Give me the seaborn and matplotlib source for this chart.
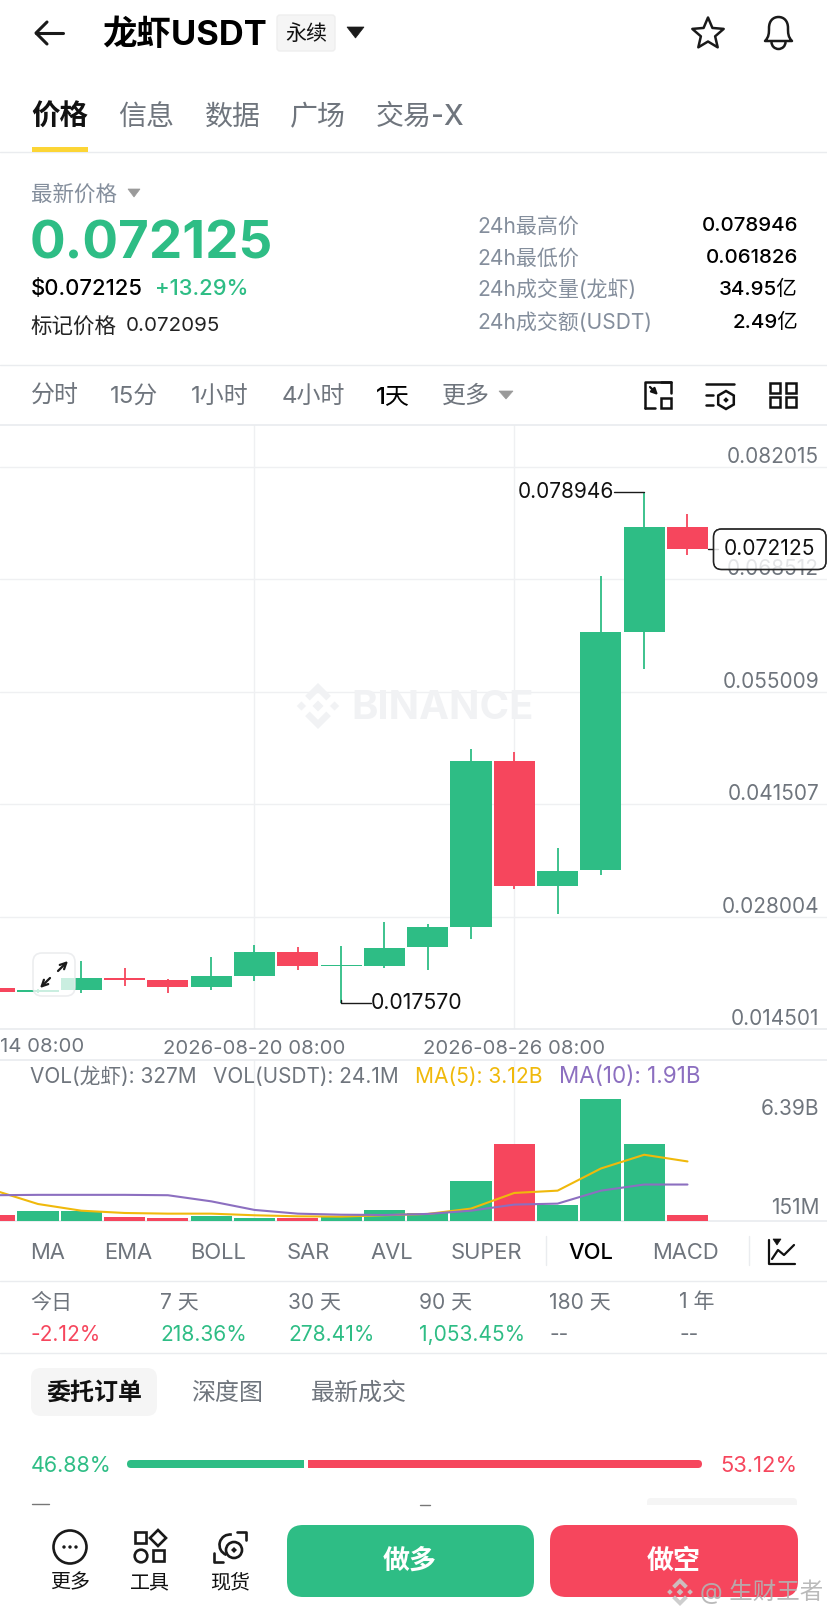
import numpy as np
import pandas as pd
import seaborn as sns
import matplotlib
matplotlib.use("Agg")
import matplotlib.pyplot as plt
from matplotlib.patches import FancyBboxPatch, Rectangle, Polygon, Circle, Arc, PathPatch
from matplotlib.path import Path

# ---------- data ----------
dates = ["08-14", "08-15", "08-16", "08-17", "08-18", "08-19", "08-20", "08-21", "08-22",
         "08-23", "08-24", "08-25", "08-26", "08-27", "08-28", "08-29", "08-30"]
opens = [.019452, .018977, .019215, .020640, .020355, .019500, .020830, .023775, .022017,
         .022017, .024298, .026768, .046672, .031708, .033561, .062111, .074794]
closes = [.018977, .019215, .020640, .020355, .019500, .020830, .023775, .022017, .022207,
          .024250, .026720, .046672, .031708, .033513, .062111, .074794, .072125]
highs = [.019452, .019260, .022635, .021875, .020450, .023110, .024535, .024298, .024440,
         .027385, .027100, .048097, .047717, .036221, .068951, .078946, .076315]
lows = [.018977, .018882, .018882, .019690, .018882, .019167, .020260, .021542, .017570,
        .021875, .021542, .025295, .031328, .028288, .032991, .057693, .071469]
volumes = [.315, .525, .525, .21, .16, .28, .175, .175, .23, .56, .42, 2.07, 4.05, .84, 6.39, 4.01, .327]
ma5 = [1.60, .89, .54, .42, .385, .385, .30, .245, .23, .30, .37, .65, 1.47, 1.59, 2.75, 3.47, 3.12]
ma10 = [1.35, 1.37, 1.37, 1.37, 1.35, 1.03, .58, .385, .33, .315, .37, .54, .86, .91, 1.59, 1.91, 1.91]
price_ticks = [.082015, .068512, .055009, .041507, .028004, .014501]
date_tick_idx = [6, 12]
date_tick_labels = ["2026-08-20 08:00", "2026-08-26 08:00"]
period_names = ["今日", "7 天", "30 天", "90 天", "180 天", "1 年"]
period_values = ["-2.12%", "218.36%", "278.41%", "1,053.45%", "--", "--"]
period_x = [31, 161, 289, 420, 550, 680]
last_price, high_price, low_price = .072125, .078946, .017570

GREEN, RED = "#2EBD85", "#F6465D"
YEL, PUR = "#F0B90B", "#8C6FC0"
GRAY, DARK, LINE = "#6f757d", "#111111", "#eaecef"
FONT = ["Inter", "Noto Sans CJK SC", "DejaVu Sans"]

sns.set_theme(style="white")
plt.rcParams["font.family"] = FONT
W, H = 828, 1617
fig = plt.figure(figsize=(W / 100, H / 100), dpi=100, facecolor="white")


def pane(top, bottom, z=1):
    return fig.add_axes([0, 1 - bottom / H, 1, (bottom - top) / H], zorder=z)


idx = np.arange(len(dates))
xlim = (0.1224, 19.245)
frame = pd.DataFrame({"i": idx, "open": opens, "close": closes, "high": highs, "low": lows,
                      "vol": volumes, "ma5": ma5, "ma10": ma10})
frame["dir"] = np.where(frame.close >= frame.open, "up", "down")
palette = {"up": GREEN, "down": RED}

# ---------- price pane ----------
ax = pane(424.7, 1029)
ax.set_facecolor("white")
colors = frame["dir"].map(palette)
ax.vlines(frame.i, frame.low, frame.high, colors=colors, lw=1.3, zorder=3)
ax.bar(frame.i, (frame.close - frame.open).abs().clip(lower=.00012),
       bottom=frame[["open", "close"]].min(axis=1), width=.951, color=colors,
       edgecolor="none", linewidth=0, zorder=4)
ax.set_yticks(price_ticks)
ax.set_yticklabels([f"{t:.6f}" for t in price_ticks])
ax.set_xticks(date_tick_idx)
ax.set_xticklabels(date_tick_labels)
ax.set_xlim(*xlim)
ax.set_ylim(.014501, .014501 + (1029 - 424.7) * (.082015 - .014501) / (1029 - 466.7))
ax.grid(True, axis="both", color="#eff0f2", lw=1)
ax.set_axisbelow(True)
ax.tick_params(axis="y", length=0, left=False, labelleft=False, right=False, labelright=True,
               pad=-6.4, labelsize=15, labelcolor=GRAY)
ax.tick_params(axis="x", length=0, bottom=False, labelsize=14.6, labelcolor=GRAY, pad=8)
for lab in ax.get_yticklabels():
    lab.set_ha("right")
    lab.set_va("bottom")
for s in ("left", "right"):
    ax.spines[s].set_visible(False)
for s in ("top", "bottom"):
    ax.spines[s].set_color(LINE)
ax.plot([15, 14.3], [high_price, high_price], color="k", lw=1, zorder=5)
ax.text(14.3, high_price, f"{high_price:.6f}", ha="right", va="center", fontsize=15, color=DARK)
ax.plot([8, 8, 8.68], [low_price + .0004, low_price, low_price], color="k", lw=1, zorder=5)
ax.text(8.68, low_price, f"{low_price:.6f}", ha="left", va="center", fontsize=15.3, color=DARK)
ax.plot([16.48, 16.7], [last_price, last_price], color="k", lw=1, zorder=5)

# ---------- volume pane ----------
av = pane(1060, 1221)
sns.barplot(data=frame, x="i", y="vol", hue="dir", palette=palette, native_scale=True, dodge=False,
            width=.951, legend=False, saturation=1, linewidth=0, edgecolor="none", ax=av, zorder=3)
sns.lineplot(data=frame, x="i", y="ma5", color=YEL, lw=1.5, ax=av, errorbar=None, zorder=5)
sns.lineplot(data=frame, x="i", y="ma10", color=PUR, lw=1.5, ax=av, errorbar=None, zorder=5)
av.set_xlabel("")
av.set_ylabel("")
av.set_xticks(date_tick_idx)
av.set_xticklabels([])
av.set_yticks([6.39, .151])
av.set_yticklabels(["6.39B", "151M"])
av.set_xlim(*xlim)
av.set_ylim(0, 8.433)
av.grid(True, axis="x", color="#eff0f2", lw=1)
av.set_axisbelow(True)
av.tick_params(axis="both", length=0)
av.tick_params(axis="y", left=False, labelleft=False, labelright=True, pad=-6.4, labelsize=15, labelcolor=GRAY)
labs = av.get_yticklabels()
for lab, va in zip(labs, ("top", "bottom")):
    lab.set_ha("right")
    lab.set_va(va)
for s in ("left", "right"):
    av.spines[s].set_visible(False)
for s in ("top", "bottom"):
    av.spines[s].set_color(LINE)

# ---------- UI overlay ----------
ui = fig.add_axes([0, 0, 1, 1], zorder=10)
ui.set_xlim(0, W)
ui.set_ylim(H, 0)
ui.axis("off")
ui.patch.set_alpha(0)


def T(x, y, s, px, color=DARK, ha="left", va="center", weight="normal", **kw):
    return ui.text(x, y + .07 * px, s, fontsize=px * .72, color=color, ha=ha, va=va, fontweight=weight, **kw)


def L(xs, ys, color="k", lw=1.6, **kw):
    ui.plot(xs, ys, color=color, lw=lw, solid_capstyle=kw.pop("cap", "round"), solid_joinstyle="round", **kw)


def RR(x0, y0, x1, y1, r, fc="none", ec="none", lw=1.0, alpha=None, z=2):
    ui.add_patch(FancyBboxPatch((x0 + r, y0 + r), x1 - x0 - 2 * r, y1 - y0 - 2 * r,
                                boxstyle=f"round,pad={r},rounding_size={r}", fc=fc, ec=ec, lw=lw, alpha=alpha, zorder=z))


def TRI(x0, x1, y0, y1, color):
    ui.add_patch(Polygon([(x0, y0), (x1, y0), ((x0 + x1) / 2, y1)], closed=True, fc=color, ec=color, lw=.5))


def DIA(cx, cy, r, fc="none", ec="none", lw=1.0, alpha=None, z=3):
    ui.add_patch(Polygon([(cx, cy - r), (cx + r, cy), (cx, cy + r), (cx - r, cy)], closed=True,
                         fc=fc, ec=ec, lw=lw, alpha=alpha, zorder=z))


def LOGO(cx, cy, r, color, alpha=None, z=3):
    for dx, dy, k in ((0, 0, .24), (-.72, 0, .2), (.72, 0, .2)):
        DIA(cx + dx * r, cy + dy * r, k * r, fc=color, alpha=alpha, z=z)
    for sgn in (-1, 1):
        ui.add_patch(Polygon([(cx, cy + sgn * r), (cx + .56 * r, cy + sgn * .44 * r), (cx + .36 * r, cy + sgn * .24 * r),
                              (cx, cy + sgn * .6 * r), (cx - .36 * r, cy + sgn * .24 * r), (cx - .56 * r, cy + sgn * .44 * r)],
                             closed=True, fc=color, ec="none", alpha=alpha, zorder=z))


# header
L([36, 63], [33, 33], lw=2.2)
L([47, 36, 47], [22, 33, 44], lw=2.2)
T(102, 33, "龙虾USDT", 34.5, "#000000", weight="bold")
RR(277, 15, 335, 51, 3, fc="#f5f5f5", ec="#eeeeee")
T(306, 33, "永续", 21, ha="center", weight="medium")
TRI(347, 364, 27, 38, "k")
ang = np.deg2rad(np.arange(10) * 36 - 90)
rad = np.where(np.arange(10) % 2 == 0, 16.5, 7.5)
ui.add_patch(Polygon(np.c_[708 + rad * np.cos(ang), 34 + rad * np.sin(ang)], closed=True, fc="none", ec="k", lw=1.8, joinstyle="round"))
bell = Path([(765, 41), (769, 37), (769, 33), (769, 28), (769, 21), (773, 17), (778.5, 17),
             (784, 17), (788, 21), (788, 28), (788, 33), (788, 37), (792, 41), (765, 41)],
            [Path.MOVETO] + [Path.CURVE4] * 12 + [Path.CLOSEPOLY])
ui.add_patch(PathPatch(bell, fc="none", ec="k", lw=1.8, joinstyle="round"))
ui.add_patch(Arc((778.5, 42), 14, 14, theta1=0, theta2=180, ec="k", lw=1.8))

# tabs
T(31.5, 115.5, "价格", 28.5, weight="bold")
for x, s in ((118, "信息"), (204.5, "数据"), (290, "广场"), (376, "交易-X")):
    T(x, 115.5, s, 28, GRAY, weight="medium")
ui.add_patch(Rectangle((32, 147), 56, 5, fc="#FCD535", ec="none", zorder=3))
L([0, W], [152.5, 152.5], LINE, 1)

# price block
T(31, 193, "最新价格", 21.5, "#848E9C")
TRI(128, 140, 189, 197, "#9a9a9a")
T(30, 241, f"{last_price:.6f}", 53, GREEN, weight="bold")
T(31, 287, f"${last_price:.6f}", 22, "#000000", weight="medium")
T(155, 287, "+13.29%", 22, GREEN, weight="medium")
T(30.5, 325, "标记价格", 21.5, "#222222")
T(126, 325, "0.072095", 20.5, "#222222")
stats = [("24h最高价", "0.078946", 225), ("24h最低价", "0.061826", 257),
         ("24h成交量(龙虾)", "34.95亿", 288), ("24h成交额(USDT)", "2.49亿", 321)]
for name, val, y in stats:
    T(477.5, y, name, 21, "#848E9C")
    T(798, y, val, 20.5, "#000000", ha="right", weight="medium")
L([0, W], [365, 365], LINE, 1)

# time selector
for x, s in ((31, "分时"), (110, "15分"), (191, "1小时"), (282, "4小时"), (442, "更多")):
    T(x, 395, s, 24, GRAY)
T(376, 395, "1天", 24, "#000000", weight="medium")
TRI(499, 513, 391, 399, "#9a9a9a")
L([661, 671, 671], [382, 382, 393], "#111111", 1.8)
L([671, 645, 645], [382, 382, 408], "#111111", 1.8)
L([645, 655], [408, 408], "#111111", 1.8)
ui.add_patch(Rectangle((661, 398), 10, 10, fc="none", ec="#111111", lw=1.8))
ui.annotate("", xy=(658, 395), xytext=(650, 387), arrowprops=dict(arrowstyle="-|>", color="#111111", lw=1.6, mutation_scale=9, shrinkA=0, shrinkB=0))
L([706, 734], [384, 384], "#111111", 1.8)
L([706, 713], [395, 395], "#111111", 1.8)
L([706, 713], [405, 405], "#111111", 1.8)
hexa = np.deg2rad(np.arange(6) * 60 - 90)
ui.add_patch(Polygon(np.c_[726 + 9 * np.cos(hexa), 400 + 9 * np.sin(hexa)], closed=True, fc="none", ec="#111111", lw=1.8))
DIA(726, 400, 2.8, fc="#111111")
for x0 in (770, 786):
    for y0 in (383, 397):
        ui.add_patch(Rectangle((x0, y0), 10, 10, fc="none", ec="#111111", lw=1.8))

# left-cropped first date label
T(84.7, 1045.5, "14 08:00", 20.3, GRAY, ha="right")

# watermark in chart
LOGO(318, 706, 23, "#f1f2f4", z=0.5)
T(351, 706, "BINANCE", 40, "#f1f2f4", weight="bold", zorder=.5)

# expand button
RR(33, 953, 75, 996, 9, fc="white", ec="#e6e8ea", lw=1.2, alpha=.75, z=5)
for a, b in (((50, 978), (40, 988)), ((58, 971), (68, 961))):
    ui.annotate("", xy=b, xytext=a, zorder=6,
                arrowprops=dict(arrowstyle="->", color="k", lw=1.6, mutation_scale=11, shrinkA=0, shrinkB=0))

# last price tag
RR(713.5, 529, 826, 569.5, 8, fc="white", ec="#222222", lw=1, alpha=.82, z=4)
RR(713.5, 529, 826, 569.5, 8, fc="none", ec="#222222", lw=1, z=5)
T(770, 548, f"{last_price:.6f}", 21, DARK, ha="center", zorder=6)

# volume header
T(30.5, 1075.5, "VOL(龙虾): 327M", 20.8, GRAY)
T(213.5, 1075.5, "VOL(USDT): 24.1M", 20.8, GRAY)
T(415, 1075.5, "MA(5): 3.12B", 21, YEL)
T(559, 1075.5, "MA(10): 1.91B", 22.4, PUR)

# indicator selector
for x, s in ((30.5, "MA"), (104, "EMA"), (190.5, "BOLL"), (287, "SAR"), (370.5, "AVL"), (451, "SUPER"), (652.5, "MACD")):
    T(x, 1251, s, 22, GRAY)
T(568, 1251, "VOL", 22, "#000000", weight="medium")
L([546, 546], [1236, 1265], LINE, 1)
L([749, 749], [1236, 1265], LINE, 1)
L([769, 769, 795], [1240, 1264, 1264], "#111111", 1.6)
L([772, 778, 784, 794], [1259, 1250, 1255, 1245], "#111111", 1.6)
TRI(773, 781, 1239, 1245, "#111111")
L([0, W], [1281, 1281], LINE, 1)

# periods
for x, n, v in zip(period_x, period_names, period_values):
    T(x - .5, 1301, n, 21, GRAY)
    col = RED if v.startswith("-") and v != "--" else (GREEN if v != "--" else GRAY)
    T(x - .5, 1334, v, 20.9, col)
L([0, W], [1353, 1353], LINE, 1)

# order book tabs
RR(31, 1368, 157, 1416, 10, fc="#f5f5f5")
T(94, 1392, "委托订单", 24, ha="center", weight="bold")
T(191, 1392, "深度图", 24, GRAY, weight="medium")
T(310.5, 1392, "最新成交", 24, GRAY, weight="medium")
T(30.5, 1464, "46.88%", 21.5, GREEN)
T(797, 1464, "53.12%", 22, RED, ha="right")
RR(127, 1460, 304, 1468, 4, fc=GREEN)
ui.add_patch(Rectangle((300, 1460), 4, 8, fc=GREEN, ec="none", zorder=3))
RR(308, 1460, 702, 1468, 4, fc=RED)
ui.add_patch(Rectangle((308, 1460), 4, 8, fc=RED, ec="none", zorder=3))
RR(647, 1498, 797, 1512, 4, fc="#f5f5f5", z=1)
L([32, 49], [1504, 1504], "#777777", 1)
L([420, 430], [1505, 1505], "#777777", 1)

# bottom bar
ui.add_patch(Rectangle((0, 1505), W, 112, fc="white", ec="none", zorder=1.5))
ui.add_patch(Circle((70, 1547), 16.5, fc="none", ec="k", lw=1.9, zorder=3))
for dx in (-6, 0, 6):
    ui.add_patch(Circle((70 + dx, 1547), 1.7, fc="k", ec="none", zorder=3))
for rect in ((135, 1532, 11, 11), (153, 1550, 11, 11)):
    ui.add_patch(Rectangle(rect[:2], rect[2], rect[3], fc="none", ec="k", lw=1.9, zorder=3))
DIA(158, 1538, 8, ec="k", lw=1.9)
ui.add_patch(Circle((141, 1556), 6.3, fc="none", ec="k", lw=1.9, zorder=3))
L([237, 246, 246], [1532, 1532, 1540], lw=1.9)
L([214, 214, 223], [1553, 1562, 1562], lw=1.9)
ui.add_patch(Arc((230, 1545), 21, 21, theta1=110, theta2=280, ec="k", lw=1.9, zorder=3))
ui.add_patch(Circle((234, 1550), 8, fc="none", ec="k", lw=1.9, zorder=3))
DIA(234, 1550, 3, fc="k")
for x, s in ((70, "更多"), (150, "工具"), (230, "现货")):
    T(x, 1582, s, 20, "#111111", ha="center")
RR(287, 1525, 534, 1597, 16, fc=GREEN)
RR(550, 1525, 798, 1597, 16, fc=RED)
T(410, 1560, "做多", 27, "white", ha="center", weight="bold", zorder=4)
T(674, 1560, "做空", 27, "white", ha="center", weight="bold", zorder=4)

# image watermark
LOGO(680, 1592, 14, "#c9c9c9", alpha=.9, z=5)
T(700, 1590, "@ 生财王者", 23.5, "#b3b3b3", zorder=5, alpha=.9)

fig.savefig("out.png", dpi=100, facecolor="white")
